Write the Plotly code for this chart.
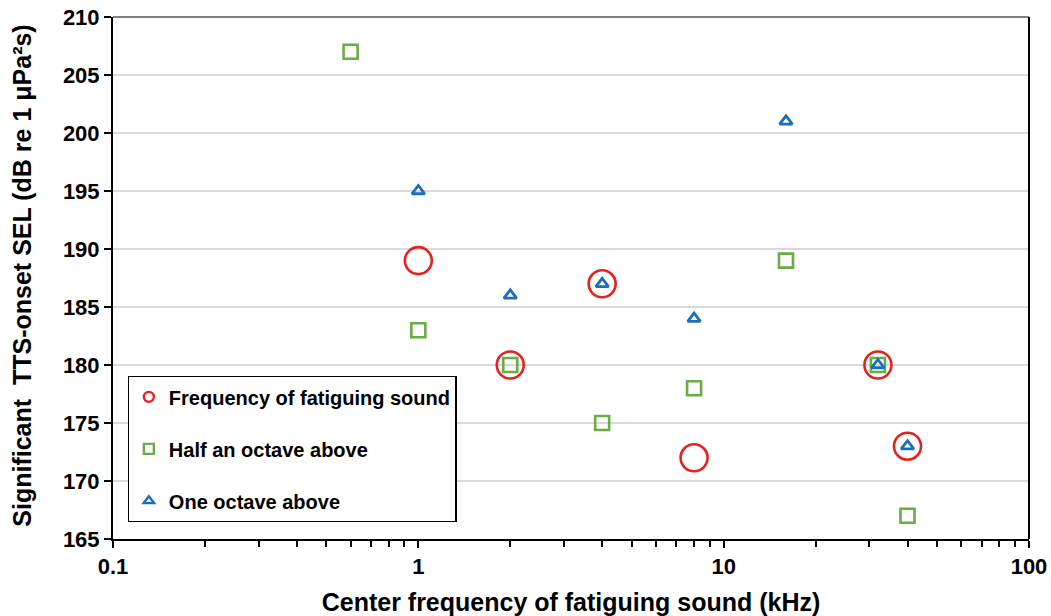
import plotly.graph_objects as go

# Data
freq_x = [1, 2, 4, 8, 32, 40]
freq_y = [189, 180, 187, 172, 180, 173]

half_x = [0.6, 1, 2, 4, 8, 16, 32, 40]
half_y = [207, 183, 180, 175, 178, 189, 180, 167]

oct_x = [1, 2, 4, 8, 16, 32, 40]
oct_y = [195, 186, 187, 184, 201, 180, 173]

names = ["Frequency of fatiguing sound", "Half an octave above", "One octave above"]
x_tick_vals = [0.1, 1, 10, 100]
x_tick_text = ["0.1", "1", "10", "100"]

RED = "#e2231f"
GREEN = "#6cac45"
BLUE = "#1b6fb8"
FONT = "Liberation Sans"

fig = go.Figure()

# Data traces (no legend)
fig.add_trace(go.Scatter(x=freq_x, y=freq_y, mode="markers", showlegend=False,
                         marker=dict(symbol="circle-open", size=27, color=RED,
                                     line=dict(width=2.6, color=RED))))
fig.add_trace(go.Scatter(x=half_x, y=half_y, mode="markers", showlegend=False,
                         marker=dict(symbol="square-open", size=14, color=GREEN,
                                     line=dict(width=2.6, color=GREEN))))
fig.add_trace(go.Scatter(x=oct_x, y=oct_y, mode="markers", showlegend=False,
                         marker=dict(symbol="triangle-up-open", size=11, color=BLUE,
                                     line=dict(width=2.8, color=BLUE))))

# Legend entries with small markers
legend_specs = [("circle-open", RED, 10), ("square-open", GREEN, 10), ("triangle-up-open", BLUE, 9)]
for i, (nm, (sym, col, sz)) in enumerate(zip(names, legend_specs)):
    fig.add_trace(go.Scatter(x=[None], y=[None], mode="markers", name=nm,
                             legendgroup=f"g{i}",
                             marker=dict(symbol=sym, size=sz, color=col,
                                         line=dict(width=2.4, color=col))))

fig.update_layout(
    width=1051, height=616,
    margin=dict(l=113, r=22, t=17, b=77, autoexpand=False),
    paper_bgcolor="white", plot_bgcolor="white",
    font=dict(family=FONT, color="black"),
    showlegend=True,
    legend=dict(
        x=0.016, y=0.312, xanchor="left", yanchor="top",
        bgcolor="white", bordercolor="black", borderwidth=1.2,
        font=dict(family=FONT, size=20, color="black", weight="bold"),
        tracegroupgap=23, itemwidth=30,
    ),
    xaxis=dict(
        type="log", range=[-1, 2], automargin=False,
        tickvals=x_tick_vals, ticktext=x_tick_text,
        ticks="outside", ticklen=7, tickwidth=1.5, tickcolor="black",
        showline=True, linecolor="black", linewidth=2,
        showgrid=False, zeroline=False,
        minor=dict(ticks="outside", ticklen=6, tickwidth=1.5, tickcolor="black",
                   dtick="D1", showgrid=False),
        tickfont=dict(family=FONT, size=22, color="black", weight="bold"),
        title=dict(text="Center frequency of fatiguing sound (kHz)",
                   font=dict(family=FONT, size=25, color="black", weight="bold"),
                   standoff=16),
    ),
    yaxis=dict(
        range=[165, 210], dtick=5, tick0=165, automargin=False,
        ticks="outside", ticklen=7, tickwidth=1.5, tickcolor="black",
        showline=True, linecolor="black", linewidth=2, mirror=False,
        showgrid=True, gridcolor="#d9d9d9", gridwidth=1.5, zeroline=False,
        tickfont=dict(family=FONT, size=22, color="black", weight="bold"),
    ),
)

# Y-axis title placed as rotated annotation (further left than Plotly's standoff allows)
fig.add_annotation(text="Significant  TTS-onset SEL (dB re 1 μPa²s)",
                   xref="paper", yref="paper", x=-0.099, y=0.505,
                   xanchor="center", yanchor="middle", textangle=-90, showarrow=False,
                   font=dict(family=FONT, size=25, color="black", weight="bold"))

# Plot-area frame: gray top, black right
fig.add_shape(type="line", xref="paper", yref="paper", x0=0, x1=1, y0=1, y1=1,
              line=dict(color="#808080", width=2))
fig.add_shape(type="line", xref="paper", yref="paper", x0=1, x1=1, y0=0, y1=1,
              line=dict(color="black", width=2))

fig.write_html("out.html", config={"displayModeBar": False},
               post_script="document.body.style.margin='0';document.body.style.padding='0';")
